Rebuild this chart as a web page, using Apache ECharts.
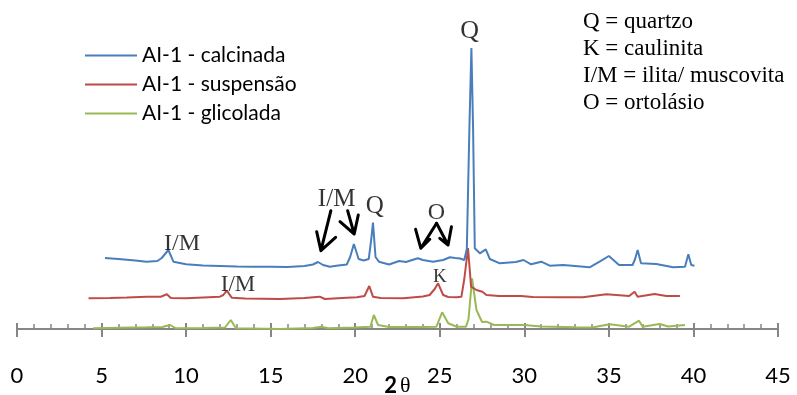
<!DOCTYPE html>
<html>
<head>
<meta charset="utf-8">
<script src="https://cdn.jsdelivr.net/npm/echarts@6/dist/echarts.min.js"></script>
<style>
  html, body { margin: 0; padding: 0; background: #fff; }
  #chart { width: 797px; height: 395px; }
</style>
</head>
<body>
<div id="chart"></div>
<script>
// 2θ positions and relative intensities (arbitrary units, offset per pattern)
const calcinada = [
  [5.2, 71], [6.0, 70], [7.0, 68.5], [7.66, 67.3], [8.3, 68], [8.56, 71], [8.95, 79], [9.25, 67.3],
  [10.0, 64.7], [11.0, 63.5], [12.0, 63], [13.0, 62.5], [14.0, 62.3], [15.0, 62.3], [16.0, 62],
  [17.0, 63], [17.5, 64.5], [17.8, 67], [18.1, 64], [18.5, 62.3], [19.0, 63.5], [19.5, 64.5],
  [19.7, 72], [19.92, 85], [20.2, 70], [20.5, 68.5], [20.8, 70], [20.95, 90], [21.05, 106.5],
  [21.2, 72], [21.4, 67.3], [22.0, 64.5], [22.6, 68], [23.0, 67], [23.7, 70.7], [24.0, 69],
  [24.6, 67.3], [25.2, 69], [25.6, 71.7], [25.9, 71], [26.2, 70.5], [26.45, 69], [26.6, 80],
  [26.75, 200], [26.87, 281], [26.97, 200], [27.07, 80.7], [27.37, 75.7], [27.72, 79.7],
  [27.96, 70], [28.55, 65.7], [29.5, 67], [29.95, 69], [30.4, 64.7], [31.0, 67.3], [31.5, 63.3],
  [32.3, 64], [33.0, 63], [33.86, 61.7], [34.45, 67.3], [35.0, 73], [35.6, 64], [36.4, 64],
  [36.55, 70], [36.7, 79], [36.9, 65.7], [37.8, 65], [38.8, 61.7], [39.5, 62.3], [39.7, 74.7],
  [39.87, 64], [40.06, 63.3]
]

const suspensao = [
  [4.23, 30.7], [5.5, 31], [6.5, 31.5], [7.68, 32.3], [8.5, 32.3], [8.86, 34.7], [9.1, 31],
  [10.0, 30.7], [11.0, 31.5], [12.0, 32.3], [12.2, 34], [12.4, 38.3], [12.7, 31.3], [13.5, 30.5],
  [15.55, 30], [17.0, 31], [17.9, 32.3], [18.2, 30], [19.5, 31.3], [20.1, 31.7], [20.55, 33],
  [20.83, 43], [21.05, 32.3], [21.5, 31], [22.84, 30.7], [24.0, 32.5], [24.4, 34], [24.7, 40],
  [24.9, 45.7], [25.2, 34], [25.5, 32], [26.0, 31.7], [26.28, 32.3], [26.45, 50], [26.67, 81],
  [26.85, 42.3], [27.17, 39], [27.52, 37.3], [27.76, 34], [28.5, 33], [29.8, 33], [30.5, 32],
  [32.1, 31.7], [33.46, 31.7], [34.85, 34.7], [36.2, 33], [36.52, 37.3], [36.7, 32.3],
  [37.7, 35], [38.4, 33], [39.2, 33]
]

const glicolada = [
  [4.5, 0.7], [6.0, 1.2], [7.68, 1.7], [8.6, 2], [9.05, 4], [9.4, 0.7], [11.0, 1], [12.3, 1.5],
  [12.64, 9], [12.95, 0.7], [15.55, 0], [17.5, 1], [18.0, 2.3], [18.4, 0.8], [20.0, 1.5],
  [20.9, 2.3], [21.1, 14], [21.35, 4], [22.0, 2], [24.0, 2], [24.8, 2.3], [25.14, 16.7],
  [25.5, 5.7], [26.0, 2.3], [26.55, 2.3], [26.7, 10], [26.91, 50.7], [27.17, 19], [27.5, 7],
  [27.76, 7.3], [28.2, 4], [30.0, 4], [31.0, 2.5], [33.0, 1.7], [34.0, 1.5], [35.05, 4.7],
  [36.2, 2.3], [36.78, 8.3], [37.0, 2.3], [38.0, 5], [38.5, 2.5], [39.5, 4]
]

const seriesNames = ['AI-1 - calcinada', 'AI-1 - suspensão', 'AI-1 - glicolada']
const seriesColors = ['#4A7EBB', '#BE4B48', '#98B954']

// peak labels: [2θ, intensity, text, font size]
const peakLabels = [
  [26.77, 298, 'Q', 26],
  [9.76, 85, 'I/M', 24],
  [13.07, 44, 'I/M', 23],
  [18.9, 130, 'I/M', 25],
  [21.16, 123, 'Q', 25],
  [24.8, 116, 'O', 24],
  [25.0, 52, 'K', 19]
]

// arrows: shaft top, tip, wing, tip, wing
const arrows = [
  [[18.56, 118.3], [17.97, 78.3], [17.72, 97.3], [17.97, 78.3], [18.84, 91.7]],
  [[19.55, 118.3], [19.94, 95], [19.1, 107.3], [19.94, 95], [20.18, 114]],
  [[24.81, 105.7], [23.88, 80.7], [23.57, 99.7], [23.88, 80.7], [24.41, 89.7]],
  [[24.81, 105.7], [25.49, 84], [25.0, 90.7], [25.49, 84], [25.69, 102.3]]
]

const keyText = 'Q = quartzo\nK = caulinita\nI/M = ilita/ muscovita\nO = ortolásio'

const chart = echarts.init(document.getElementById('chart'), null, { renderer: 'canvas' })

const gridBox = { left: 17, right: 19, top: 29, bottom: 66, outerBoundsMode: 'none', containLabel: false }
const axisGray = '#868686'

const option = {
  animation: false,
  backgroundColor: '#fff',
  grid: [
    { ...gridBox },
    { ...gridBox },
  ],
  legend: {
    data: seriesNames,
    orient: 'vertical',
    left: 80,
    top: 40,
    icon: 'path://M0,0L52,0L52,2L0,2Z',
    itemWidth: 52,
    itemHeight: 2,
    itemGap: 8,
    textStyle: { fontFamily: 'Lato', fontSize: 21, lineHeight: 20, color: '#000' },
  },
  xAxis: [
    {
      type: 'value',
      gridIndex: 0,
      min: 0,
      max: 45,
      interval: 5,
      splitLine: { show: false },
      axisLine: { lineStyle: { color: axisGray, width: 2 } },
      axisTick: { inside: false, length: 8, lineStyle: { color: axisGray, width: 2 } },
      axisLabel: { margin: 36, fontFamily: 'Lato', fontSize: 22, color: '#000' },
      name: '{b|2}{t|θ}',
      nameLocation: 'middle',
      nameGap: 46,
      nameMoveOverlap: false,
      nameTextStyle: {
        rich: {
          b: { fontFamily: 'Lato', fontWeight: 'bold', fontSize: 22, color: '#000' },
          t: { fontFamily: 'Liberation Serif', fontSize: 22, color: '#000', padding: [0, 0, 0, 3] },
        },
      },
    },
    {
      type: 'value',
      gridIndex: 1,
      min: 0,
      max: 45,
      interval: 5,
      splitLine: { show: false },
      axisLine: { show: false },
      axisLabel: { show: false },
      axisTick: { inside: true, length: 6, lineStyle: { color: axisGray, width: 2 } },
      minorTick: { show: true, splitNumber: 5, length: 5, lineStyle: { color: axisGray, width: 1.5 } },
    },
  ],
  yAxis: [
    { type: 'value', gridIndex: 0, min: 0, max: 300, show: false },
    { type: 'value', gridIndex: 1, min: 0, max: 300, show: false },
  ],
  graphic: [
    {
      type: 'text',
      left: 583,
      top: 8,
      style: {
        text: keyText,
        fontFamily: 'Liberation Serif',
        fontSize: 23,
        lineHeight: 27,
        fill: '#000',
      },
    },
  ],
  series: [
    ...[calcinada, suspensao, glicolada].map((d, i) => ({
      name: seriesNames[i],
      type: 'line',
      data: d,
      symbol: 'none',
      color: seriesColors[i],
      lineStyle: { color: seriesColors[i], width: 2 },
      z: 3 - i,
    })),
    {
      name: 'labels',
      type: 'scatter',
      symbol: 'circle',
      symbolSize: 1,
      itemStyle: { color: 'rgba(0,0,0,0)' },
      data: peakLabels.map((p) => ({
        value: [p[0], p[1]],
        label: {
          show: true,
          position: 'inside',
          formatter: p[2],
          fontFamily: 'Liberation Serif',
          fontSize: p[3],
          color: '#000',
        },
      })),
      z: 5,
    },
    {
      name: 'arrows',
      type: 'lines',
      coordinateSystem: 'cartesian2d',
      polyline: true,
      lineStyle: { color: '#000', width: 3, opacity: 1, cap: 'round', join: 'round' },
      data: arrows.map((a) => ({ coords: a })),
      z: 5,
    },
  ],
}

chart.setOption(option)
</script>
</body>
</html>
